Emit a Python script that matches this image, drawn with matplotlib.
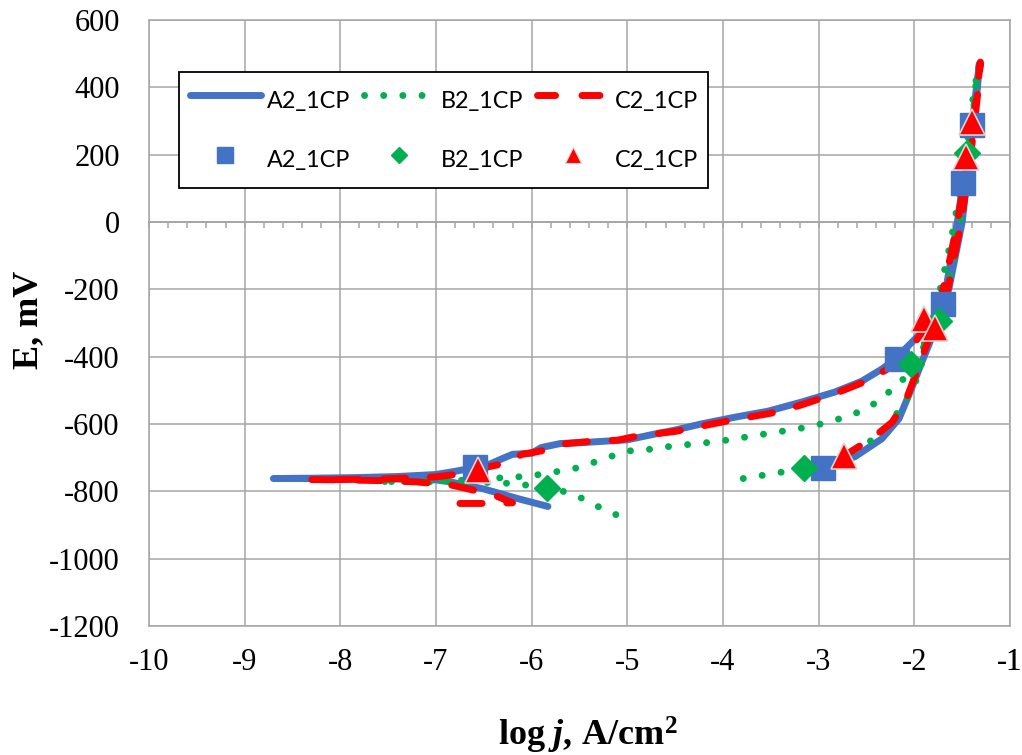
import numpy as np
import matplotlib
matplotlib.use("Agg")
import matplotlib.pyplot as plt
from matplotlib.lines import Line2D
from matplotlib.ticker import MultipleLocator

# ---------------- data ----------------
a2_logj = [-5.83, -6.14, -6.5, -6.85, -7.0, -7.5, -8.0, -8.7,
           -8.3, -7.8, -7.4, -7.0, -6.85, -6.6, -6.46, -6.3, -6.2, -6.0, -5.9, -5.7,
           -5.4, -5.0, -4.75, -4.5, -4.23, -3.88, -3.53, -3.18, -2.83, -2.55, -2.34,
           -2.2, -1.99, -1.82, -1.7, -1.64, -1.57, -1.5, -1.46, -1.42, -1.38, -1.34, -1.32,
           -1.35, -1.39, -1.44, -1.5, -1.55, -1.61, -1.67, -1.78, -1.92, -2.03, -2.16,
           -2.34, -2.62, -2.95]
a2_E = [-845, -822, -793, -772, -766, -763, -762, -762,
        -761, -759, -756, -750, -743, -730, -722, -702, -690, -687, -670, -658,
        -654, -647, -632, -618, -600, -580, -562, -535, -505, -473, -437,
        -407, -347, -290, -240, -200, -100, 0, 100, 200, 300, 400, 470,
        400, 300, 200, 100, 0, -100, -200, -317, -415, -495, -584,
        -644, -697, -730]

b2_logj = [-5.12, -5.28, -5.44, -5.61, -5.8, -6.01, -6.2, -6.4, -6.8, -7.2, -7.6,
           -7.2, -6.8, -6.5, -6.33, -6.14, -5.94, -5.75, -5.56, -5.36, -5.18, -4.99,
           -4.81, -4.6, -4.23, -4.05, -3.85, -3.66, -3.46, -3.26, -3.07, -2.89, -2.7,
           -2.52, -2.37, -2.25, -2.13, -2.0, -1.88, -1.75, -1.66, -1.58, -1.52, -1.47,
           -1.43, -1.39, -1.36, -1.34,
           -1.37, -1.42, -1.46, -1.52, -1.58, -1.65, -1.73, -1.89, -2.0, -2.27, -2.52,
           -2.8, -3.13, -3.23, -3.42, -3.62, -3.79]
b2_E = [-869, -849, -825, -804, -792, -783, -777, -774, -772, -771, -771,
        -770, -768, -764, -760, -757, -751, -742, -733, -715, -697, -680,
        -677, -668, -657, -652, -643, -634, -625, -616, -607, -593, -578,
        -557, -531, -501, -472, -420, -360, -290, -200, -100, 0, 100,
        200, 300, 400, 440,
        400, 300, 200, 100, 0, -100, -200, -353, -493, -605, -665,
        -705, -727, -733, -745, -754, -762]

c2_logj = [-6.75, -6.45, -6.2, -6.36, -6.6, -6.83, -7.2, -7.6, -8.0, -8.3,
           -8.0, -7.5, -7.0, -6.8, -6.6, -6.5, -6.3, -6.1, -5.9, -5.7, -5.4, -5.1,
           -4.9, -4.5, -4.2, -3.9, -3.5, -3.2, -2.85, -2.55, -2.3, -2.15, -2.0, -1.85,
           -1.72, -1.65, -1.58, -1.51, -1.46, -1.41, -1.37, -1.33, -1.31,
           -1.34, -1.38, -1.43, -1.49, -1.55, -1.62, -1.7, -1.82, -1.99, -2.09, -2.23,
           -2.42, -2.73]
c2_E = [-836, -836, -834, -815, -797, -782, -772, -768, -766, -765,
        -765, -763, -757, -750, -745, -730, -718, -690, -680, -660, -652, -648,
        -636, -622, -605, -588, -568, -545, -512, -478, -440, -410, -360, -300,
        -240, -200, -100, 0, 100, 200, 300, 400, 475,
        400, 300, 200, 100, 0, -100, -200, -326, -456, -531, -594,
        -638, -694]

a2_mk_logj = [-6.59, -2.95, -2.18, -1.70, -1.49, -1.40]
a2_mk_E = [-729, -732, -406, -243, 117, 288]
b2_mk_logj = [-5.84, -3.15, -2.03, -1.74, -1.45]
b2_mk_E = [-791, -732, -421, -293, 204]
c2_mk_logj = [-6.56, -2.74, -1.90, -1.78, -1.46, -1.40]
c2_mk_E = [-738, -696, -287, -314, 192, 297]

series_names = ["A2_1CP", "B2_1CP", "C2_1CP"]
x_ticks = list(range(-10, 0))
y_ticks = list(range(-1200, 601, 200))

# ---------------- style ----------------
BLUE = "#4472C4"
GREEN = "#00B050"
RED = "#FF0000"
GRID = "#A6A6A6"
LW = 5.0

plt.rcParams["axes.unicode_minus"] = False
plt.rcParams["mathtext.fontset"] = "custom"
plt.rcParams["mathtext.rm"] = "Liberation Serif"
plt.rcParams["mathtext.it"] = "Liberation Serif:italic"
plt.rcParams["mathtext.bf"] = "Liberation Serif:bold"
plt.rcParams["mathtext.bfit"] = "Liberation Serif:italic:bold"

fig = plt.figure(figsize=(10.22, 7.55), dpi=100)
ax = fig.add_axes([149 / 1022, 1 - 626 / 755, 861 / 1022, 606 / 755])

ax.set_xlim(-10, -1)
ax.set_ylim(-1200, 600)
ax.set_xticks(x_ticks + [-1])
ax.set_yticks(y_ticks)
ax.grid(True, color=GRID, lw=1.1, zorder=0)
ax.set_axisbelow(True)
for s in ax.spines.values():
    s.set_color(GRID)
    s.set_linewidth(1.1)
ax.tick_params(length=0, labelsize=22)
ax.tick_params(axis="x", pad=16)
ax.tick_params(axis="y", pad=21)
for lab in ax.get_xticklabels() + ax.get_yticklabels():
    lab.set_fontfamily("Liberation Serif")

# axis line at E = 0 with minor ticks
sec = ax.secondary_xaxis(0, transform=ax.transData)
sec.set_xticks(x_ticks + [-1])
sec.xaxis.set_minor_locator(MultipleLocator(0.2))
sec.tick_params(which="both", labelbottom=False, labeltop=False,
                direction="out", length=4.5, width=1.1, color=GRID)
for s in sec.spines.values():
    s.set_color(GRID)
    s.set_linewidth(1.3)

# curves
ax.plot(a2_logj, a2_E, color=BLUE, lw=LW, solid_capstyle="round",
        solid_joinstyle="round", zorder=3)
ax.plot(b2_logj, b2_E, color=GREEN, lw=LW, linestyle=(0, (0.01, 2.75)),
        dash_capstyle="round", zorder=3)
ax.plot(c2_logj, c2_E, color=RED, lw=LW, linestyle=(0, (3.2, 3.55)),
        dash_capstyle="round", zorder=3)

# markers
ax.plot(a2_mk_logj, a2_mk_E, ls="none", marker="s", ms=17.3, color=BLUE,
        mec=BLUE, zorder=4)
ax.plot(b2_mk_logj, b2_mk_E, ls="none", marker="D", ms=13.6, color=GREEN,
        mec=GREEN, zorder=5)
ax.plot(c2_mk_logj, c2_mk_E, ls="none", marker="^", ms=19, color=RED,
        mec="#E3D0D0", mew=1.2, zorder=6)

# labels
ax.set_ylabel("E, mV", fontfamily="Liberation Serif", fontweight="bold",
              fontsize=26)
ax.yaxis.set_label_coords(-0.121, 0.505)
ax.set_xlabel(r"$\mathbf{log}\ \mathbfit{j}\mathbf{,\,A/cm^{2}}$", fontsize=26)
ax.xaxis.set_label_coords(0.51, -0.146)

# legend
handles = [
    Line2D([], [], color=BLUE, lw=LW, solid_capstyle="round"),
    Line2D([], [], ls="none", marker="s", ms=12, color=BLUE),
    Line2D([], [], color=GREEN, lw=LW, linestyle=(0, (0.01, 2.75)),
           dash_capstyle="round"),
    Line2D([], [], ls="none", marker="D", ms=7.8, color=GREEN),
    Line2D([], [], color=RED, lw=LW, linestyle=(0, (2.6, 3.8)),
           dash_capstyle="round"),
    Line2D([], [], ls="none", marker="^", ms=11, color=RED, mec="#E3D0D0",
           mew=0.8),
]
labels = [series_names[0], series_names[0], series_names[1], series_names[1],
          series_names[2], series_names[2]]
leg = ax.legend(handles, labels, ncol=3, loc="upper left",
                bbox_to_anchor=(30 / 861, (626 - 72) / 606),
                borderaxespad=0, frameon=True, fancybox=False,
                edgecolor="black", framealpha=1, facecolor="white",
                prop={"family": "Lato", "size": 16.8},
                handlelength=3.05, handletextpad=0.25, columnspacing=0.6,
                handleheight=2.0, labelspacing=1.0, borderpad=0.45)
leg.get_frame().set_linewidth(1.3)
leg.set_zorder(10)

fig.savefig("out.png", dpi=100)
